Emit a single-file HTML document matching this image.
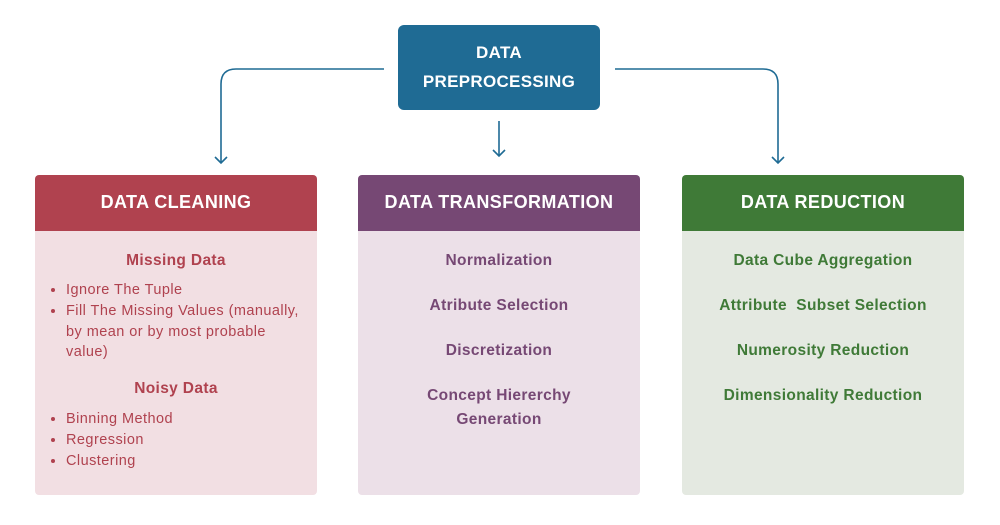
<!DOCTYPE html>
<html><head><style>
body{margin:0;width:1000px;height:525px;background:#fff;font-family:"Liberation Sans",sans-serif;position:relative;overflow:hidden}
.top{position:absolute;left:398px;top:25px;width:202px;height:85px;background:#1f6b94;border-radius:6px;color:#fff;font-weight:bold;font-size:17px;text-align:center;line-height:29px;padding-top:13px;box-sizing:border-box;letter-spacing:.3px}
.col{position:absolute;top:175px;width:282px;height:320px;border-radius:4px;overflow:hidden}
.hd{height:56px;color:#fff;font-weight:bold;font-size:18px;text-align:center;line-height:54px;letter-spacing:.4px}
.bd{height:264px;text-align:center;font-weight:bold;font-size:15.5px;letter-spacing:.35px}
.bd p{margin:0}
ul{margin:0;padding-left:31px;padding-right:6px;text-align:left;font-weight:normal;font-size:14.5px;line-height:20.8px;letter-spacing:.45px}
</style></head><body>
<svg width="1000" height="525" style="position:absolute;left:0;top:0">
<g stroke="#1f6b94" stroke-width="1.6" fill="none">
<path d="M384 69 H236 Q221 69 221 84 V163"/><path d="M215 157 L221 163 L227 157"/>
<path d="M615 69 H763 Q778 69 778 84 V163"/><path d="M772 157 L778 163 L784 157"/>
<path d="M499 121 V156"/><path d="M493 150 L499 156 L505 150"/>
</g></svg>
<div class="top">DATA<br>PREPROCESSING</div>
<div class="col" style="left:35px"><div class="hd" style="background:#b0424f">DATA CLEANING</div>
<div class="bd" style="background:#f2dfe3;color:#b0424f">
<p style="padding-top:21px">Missing Data</p>
<ul style="margin-top:10px"><li>Ignore The Tuple</li><li>Fill The Missing Values (manually, by mean or by most probable value)</li></ul>
<p style="padding-top:17px">Noisy Data</p>
<ul style="margin-top:11px"><li>Binning Method</li><li>Regression</li><li>Clustering</li></ul>
</div></div>
<div class="col" style="left:358px"><div class="hd" style="background:#764874">DATA TRANSFORMATION</div>
<div class="bd" style="background:#ece0e8;color:#764874;line-height:24px">
<p style="padding-top:18px">Normalization</p><p style="padding-top:21px">Atribute Selection</p><p style="padding-top:21px">Discretization</p><p style="padding-top:21px">Concept Hiererchy<br>Generation</p>
</div></div>
<div class="col" style="left:682px"><div class="hd" style="background:#3f7a37">DATA REDUCTION</div>
<div class="bd" style="background:#e4e9e1;color:#3f7a37;line-height:24px">
<p style="padding-top:18px">Data Cube Aggregation</p><p style="padding-top:21px">Attribute&nbsp; Subset Selection</p><p style="padding-top:21px">Numerosity Reduction</p><p style="padding-top:21px">Dimensionality Reduction</p>
</div></div>
</body></html>
